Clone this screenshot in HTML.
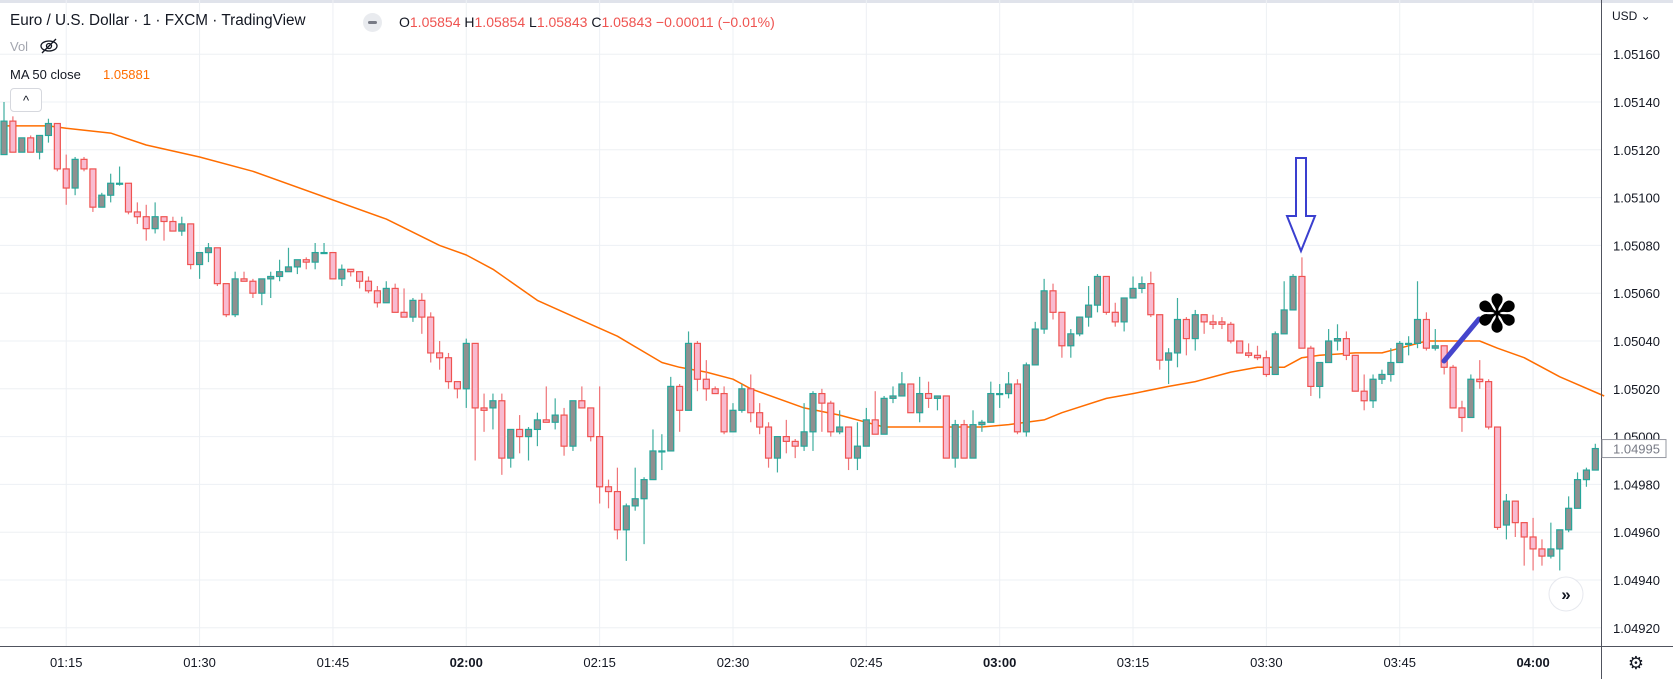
<!DOCTYPE html>
<html><head><meta charset="utf-8"><style>
html,body{margin:0;padding:0;background:#fff;}
body{width:1673px;height:679px;overflow:hidden;position:relative;font-family:"Liberation Sans",sans-serif;}
.t{position:absolute;white-space:nowrap;}
</style></head><body>
<svg id="chart" width="1673" height="679" style="position:absolute;left:0;top:0" xmlns="http://www.w3.org/2000/svg">
<rect x="0" y="0" width="1673" height="3" fill="#e0e3eb"/>
<g id="grid"></g>
<g id="ma"></g>
<g id="candles"></g>
<g id="yaxis"></g>
<g id="xaxis"></g>
<g>
<path d="M1296 158 L1306 158 L1306 216 L1315 216 L1301 251 L1287 216 L1296 216 Z" fill="#fff" stroke="#3a3fcf" stroke-width="2" stroke-linejoin="miter"/>
</g>
<line x1="1444" y1="361" x2="1479" y2="319" stroke="#4545cc" stroke-width="5" stroke-linecap="round"/>
<text x="1497" y="332" font-size="52" text-anchor="middle" fill="#000" font-family="DejaVu Sans, sans-serif">✽</text>
<g>
<circle cx="1566" cy="594" r="17" fill="#fff" stroke="#e6e8ee" stroke-width="1"/>
<text x="1566" y="600" font-size="17" text-anchor="middle" fill="#131722" font-weight="bold">»</text>
</g>
</svg>

<div class="t" style="left:10px;top:12px;font-size:15.3px;color:#131722;">Euro / U.S. Dollar · 1 · FXCM · TradingView</div>
<div style="position:absolute;left:363px;top:13px;width:19px;height:19px;border-radius:50%;background:#e9ebef;"><div style="position:absolute;left:5px;top:8px;width:9px;height:3px;border-radius:2px;background:#787b86"></div></div>
<div class="t" style="left:399px;top:14px;font-size:14px;color:#ef5350;"><span style="color:#131722">O</span>1.05854 <span style="color:#131722">H</span>1.05854 <span style="color:#131722">L</span>1.05843 <span style="color:#131722">C</span>1.05843 −0.00011 (−0.01%)</div>
<div class="t" style="left:10px;top:39px;font-size:13px;color:#a3a6af;">Vol</div>
<svg style="position:absolute;left:39px;top:37px" width="20" height="18"><ellipse cx="10" cy="9" rx="8" ry="5" fill="none" stroke="#131722" stroke-width="1.3"/><circle cx="10" cy="9" r="2.5" fill="none" stroke="#131722" stroke-width="1.3"/><line x1="3" y1="16" x2="17" y2="2" stroke="#131722" stroke-width="1.3"/></svg>
<div class="t" style="left:10px;top:67px;font-size:13px;color:#131722;">MA 50 close</div>
<div class="t" style="left:103px;top:67px;font-size:13px;color:#ff6d00;">1.05881</div>
<div style="position:absolute;left:10px;top:88px;width:30px;height:22px;border:1px solid #d6d8de;border-radius:4px;background:#fff;font-size:13px;text-align:center;line-height:24px;color:#131722;">^</div>

<script>
const opens=[];const highs=[];const lows=[];const closes=[];
const V=[
[218,240,218,232],[232,234,219,219],[219,225,219,225],[225,226,219,219],[219,226,216,226],[226,233,223,231],[231,231,211,212],[212,218,197,204],[204,217,201,216],[216,217,211,212],
[212,212,194,196],[196,202,196,201],[201,210,198,206],[206,213,205,206],[206,206,193,194],[194,198,189,192],[192,197,182,187],[187,198,185,192],[192,192,182,190],[190,192,186,186],
[186,192,184,189],[189,189,170,172],[172,177,166,177],[177,181,173,179],[179,179,163,164],[164,164,150,151],[151,169,150,166],[166,169,165,165],[165,166,158,160],[160,166,155,166],
[166,169,158,167],[167,174,165,169],[169,179,169,171],[171,174,168,174],[174,175,170,173],[173,181,170,177],[177,181,177,177],[177,177,166,166],[166,172,163,170],[170,170,167,169],
[169,169,162,165],[165,167,160,161],[161,163,154,156],[156,165,156,162],[162,164,152,152],[152,162,150,150],[150,158,148,157],[157,160,143,150],[150,152,131,135],[135,140,128,133],
[133,135,120,123],[123,123,116,120],[120,141,112,139],[139,139,90,112],[112,118,102,111],[112,118,103,115],[115,118,84,91],[91,103,87,103],[103,109,93,100],[100,104,90,103],
[103,110,96,107],[107,121,106,106],[106,116,103,109],[109,112,92,96],[96,115,94,115],[115,121,112,112],[112,112,98,100],[100,121,72,79],[79,82,70,77],[77,87,57,61],
[61,72,48,71],[71,87,69,74],[74,83,55,82],[82,103,82,94],[94,101,86,94],[94,125,94,121],[121,122,102,111],[111,144,111,139],[139,140,119,124],[124,132,115,120],
[120,121,118,118],[118,121,101,102],[102,114,102,111],[111,122,110,120],[120,126,106,110],[110,114,101,104],[104,106,87,91],[91,100,85,100],[100,107,93,98],[98,99,91,96],
[96,114,94,102],[102,119,94,118],[118,120,102,114],[114,115,100,102],[102,111,101,104],[104,104,86,91],[91,106,86,96],[96,112,96,107],[107,119,101,101],[101,117,101,116],
[116,121,114,117],[117,127,117,122],[122,122,110,110],[110,125,106,118],[118,123,112,116],[116,117,111,117],[117,117,91,91],[91,107,87,105],[105,107,91,91],[91,111,91,105],
[105,107,102,106],[106,123,106,118],[118,122,112,118],[118,127,116,122],[122,124,101,102],[102,131,100,130],[130,148,130,145],[145,166,143,161],[161,164,149,152],[152,152,133,138],
[138,145,133,143],[143,150,142,150],[150,163,146,155],[155,168,152,167],[167,167,151,152],[152,156,146,148],[148,158,144,158],[158,167,158,162],[162,167,160,164],[164,169,150,151],
[151,151,128,132],[132,137,122,135],[135,158,129,149],[149,150,134,141],[141,153,136,151],[151,151,143,148],[148,151,145,147],[148,150,145,147],[147,148,139,140],[140,140,135,135],
[135,139,133,134],[134,138,132,133],[133,136,125,126],[126,144,126,143],[143,165,143,153],[153,168,153,167],[167,175,137,137],[137,138,117,121],[121,131,116,131],[131,145,131,140],
[140,147,136,141],[141,144,132,134],[134,134,119,119],[119,126,111,115],[115,126,112,124],[124,128,122,126],[126,137,123,131],[131,140,131,139],[139,142,134,139],[139,165,137,149],
[149,152,136,137],[137,145,136,138],[138,138,126,129],[129,130,112,112],[112,115,102,108],[108,126,108,124],[124,132,120,123],[123,124,103,104],[104,104,61,62],[63,76,57,73],
[73,73,58,64],[64,64,46,58],[58,66,44,53],[53,57,46,50],[50,64,49,53],[53,61,44,61],[61,75,60,70],[70,85,70,82],[82,87,79,86],[86,97,86,95]
];
// quotes given in 0.00001 units above 1.04900
V.forEach(r=>{opens.push(1.049+r[0]/1e5);highs.push(1.049+r[1]/1e5);lows.push(1.049+r[2]/1e5);closes.push(1.049+r[3]/1e5);});
const maIdx=[0,5,7,12,16,22,28,43,49,52,55,60,66,69,74,76,79,82,84,90,94,97,99,102,110,113,117,119,124,127,131,134,138,141,144,146,148,152,155,157,160,163,166,168,171,175,180];
const maVal=[1.05130,1.05130,1.05129,1.05127,1.05122,1.05117,1.05111,1.05091,1.05080,1.05076,1.05070,1.05057,1.05047,1.05042,1.05031,1.05029,1.05027,1.05024,1.05020,1.05012,1.05009,1.05006,1.05004,1.05004,1.05004,1.05005,1.05007,1.05010,1.05016,1.05018,1.05021,1.05023,1.05027,1.05029,1.05029,1.05033,1.05034,1.05035,1.05035,1.05037,1.05040,1.05040,1.05040,1.05037,1.05033,1.05025,1.05017];
const priceTicks=[1.05160,1.05140,1.05120,1.05100,1.05080,1.05060,1.05040,1.05020,1.05000,1.04980,1.04960,1.04940,1.04920];
const timeLabels=["01:15","01:30","01:45","02:00","02:15","02:30","02:45","03:00","03:15","03:30","03:45","04:00"];
const timeIdx=[7,22,37,52,67,82,97,112,127,142,157,172];
const boldLabels=["02:00","03:00","04:00"];
const lastPrice=1.04995;

const NS="http://www.w3.org/2000/svg";
const X=i=>4+i*8.89;
const Y=p=>102+(1.05140-p)/0.0002*47.8;
function mk(tag,attrs,parent){const e=document.createElementNS(NS,tag);for(const k in attrs)e.setAttribute(k,attrs[k]);parent.appendChild(e);return e;}
const grid=document.getElementById('grid'),cg=document.getElementById('candles'),ya=document.getElementById('yaxis'),xa=document.getElementById('xaxis'),mg=document.getElementById('ma');
const PR=1601;
priceTicks.forEach(p=>{
  const l=mk('line',{x1:0,x2:PR,y1:Y(p),y2:Y(p),stroke:'#edf0f4','stroke-width':1},grid);
  
  
  const t=mk('text',{x:1613,y:Y(p)+5,'font-size':13,fill:'#131722','font-family':'Liberation Sans, sans-serif'},ya);
  t.textContent=p.toFixed(5);
  
  
});
timeIdx.forEach((ix,k)=>{
  const l=mk('line',{x1:X(ix),x2:X(ix),y1:0,y2:646,stroke:'#edf0f4','stroke-width':1},grid);
  
  
  const lab=timeLabels[k];
  const t=mk('text',{x:X(ix),y:667,'font-size':13,fill:'#131722','text-anchor':'middle','font-weight':boldLabels.includes(lab)?'bold':'normal','font-family':'Liberation Sans, sans-serif'},xa);
  t.textContent=lab;
  
  
});
let a=mk('line',{x1:PR+0.5,x2:PR+0.5,y1:0,y2:679,stroke:'#50535e','stroke-width':1},ya);


a=mk('line',{x1:0,x2:1673,y1:646.5,y2:646.5,stroke:'#50535e','stroke-width':1},xa);


let u=mk('text',{x:1612,y:20,'font-size':12,fill:'#131722'},ya);u.textContent='USD ⌄';


let g=mk('text',{x:1636,y:669,'font-size':18,fill:'#131722','text-anchor':'middle','font-family':'DejaVu Sans, sans-serif'},xa);g.textContent='⚙';


let d='';maIdx.forEach((ix,k)=>{d+=(k?'L':'M')+X(ix).toFixed(1)+' '+Y(maVal[k]).toFixed(1);});
const mp=mk('path',{d:d,fill:'none',stroke:'#ff6d00','stroke-width':1.5,'stroke-linejoin':'round'},mg);


for(let i=0;i<opens.length;i++){
  const up=closes[i]>=opens[i];
  const c=up?'#26a69a':'#ef5350';
  const grp=mk('g',{},cg);
  
  
  const x=X(i);
  mk('line',{x1:x,x2:x,y1:Y(highs[i]),y2:Y(lows[i]),stroke:up?'#3fae9f':'#ef7478','stroke-width':1.2},grp);
  const top=Y(Math.max(opens[i],closes[i])),bot=Y(Math.min(opens[i],closes[i]));
  mk('rect',{x:x-3,y:top,width:6,height:Math.max(1,bot-top),fill:up?'#909090':'#f8bbd0',stroke:c,'stroke-width':1.2},grp);
}
const ly=Y(lastPrice);
const lb=mk('rect',{x:PR+1,y:ly-9,width:64,height:18,fill:'#fff',stroke:'#9598a1','stroke-width':1},ya);


const lt=mk('text',{x:1613,y:ly+5,'font-size':13,fill:'#787b86'},ya);lt.textContent=lastPrice.toFixed(5);


</script>
</body></html>
